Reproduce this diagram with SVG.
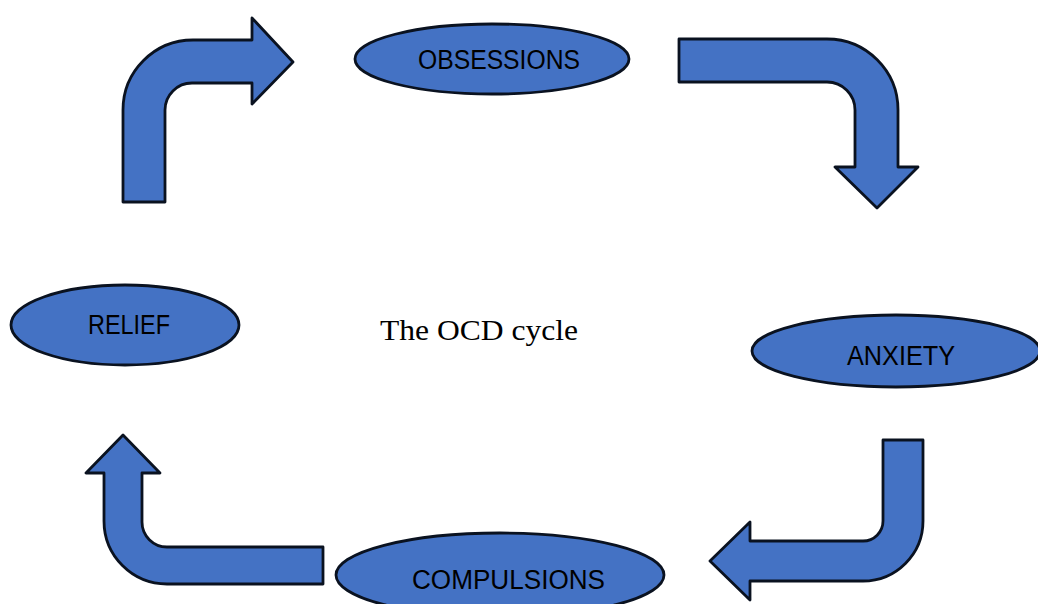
<svg xmlns="http://www.w3.org/2000/svg" width="1038" height="604" viewBox="0 0 1038 604">
<style>
.shape{fill:#4472C4;stroke:#0a1220;stroke-width:2.8;stroke-linejoin:round}
.lbl{font-family:"Liberation Sans",Arial,sans-serif;font-size:27px;fill:#000;text-anchor:start}
.title{font-family:"Liberation Serif","Times New Roman",serif;font-size:30px;fill:#000}
</style>
<rect width="1038" height="604" fill="#fff"/>
<g id="connectors">
<path class="shape" d="M123,202 L123,110 A70,70 0 0 1 193,40 L252,40 L252,18 L293,62 L252,104 L252,83 L192,83 A27,27 0 0 0 165,110 L165,202 Z"/>
<path class="shape" d="M679,39 L827,39 A71,71 0 0 1 898,110 L898,167 L918,167 L877,208 L835,167 L855,167 L855,110 A28,28 0 0 0 827,82 L679,82 Z"/>
<path class="shape" d="M883,440 L923,440 L923,521 A60,60 0 0 1 863,581 L750,581 L750,600 L710,561 L750,522 L750,541 L863,541 A20,20 0 0 0 883,521 Z"/>
<path class="shape" d="M323,547 L167,547 A25,25 0 0 1 142,522 L142,473 L160,473 L123,435 L86,473 L104,473 L104,521 A63,63 0 0 0 167,584 L323,584 Z"/>
</g>
<g id="obsessions">
<ellipse class="shape" cx="492" cy="59" rx="137" ry="35"/>
<text class="lbl" x="418" y="69" textLength="162" lengthAdjust="spacingAndGlyphs">OBSESSIONS</text>
</g>
<g id="anxiety">
<ellipse class="shape" cx="896" cy="351" rx="144" ry="36"/>
<text class="lbl" x="847" y="365" textLength="108" lengthAdjust="spacingAndGlyphs">ANXIETY</text>
</g>
<g id="compulsions">
<ellipse class="shape" cx="500" cy="575" rx="164" ry="42"/>
<text class="lbl" x="412" y="589" textLength="193" lengthAdjust="spacingAndGlyphs">COMPULSIONS</text>
</g>
<g id="relief">
<ellipse class="shape" cx="125" cy="325" rx="114" ry="40"/>
<text class="lbl" x="88" y="334" textLength="82" lengthAdjust="spacingAndGlyphs">RELIEF</text>
</g>
<g id="title">
<text class="title" x="380" y="340" textLength="198" lengthAdjust="spacingAndGlyphs">The OCD cycle</text>
</g>
</svg>
